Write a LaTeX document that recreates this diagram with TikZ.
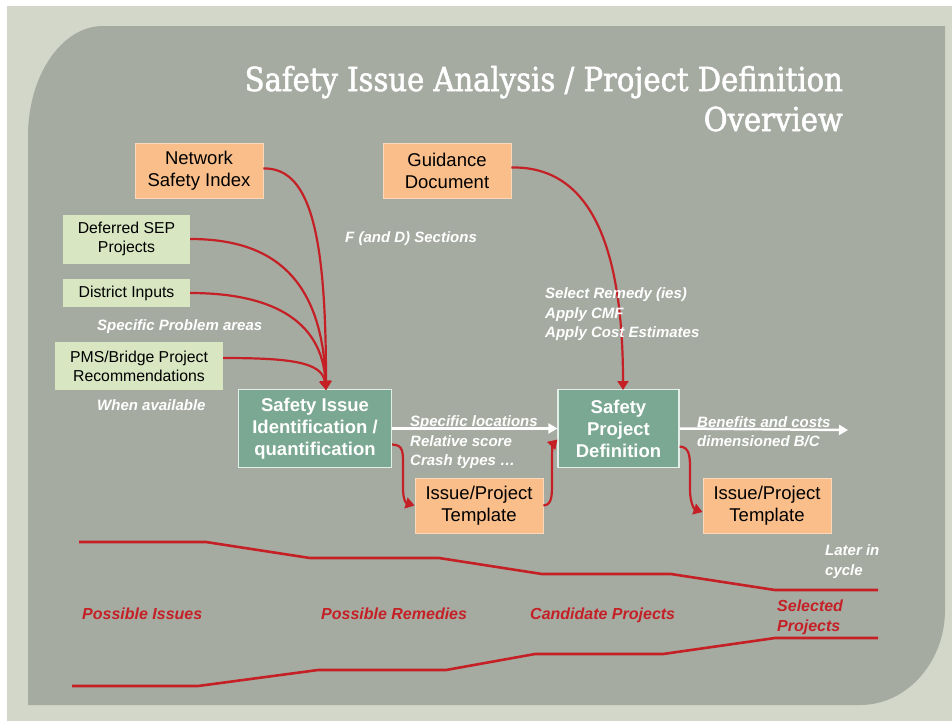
\documentclass[tikz,border=0pt]{standalone}
\usepackage{fontspec}
\setmainfont{Liberation Sans}
\newfontfamily\titlefont[FakeStretch=0.88,FakeBold=1.6]{DejaVu Serif}
\usetikzlibrary{arrows.meta}
\definecolor{pagebg}{RGB}{211,215,201}
\definecolor{panelbg}{RGB}{166,171,162}
\definecolor{peach}{RGB}{249,190,138}
\definecolor{palegreen}{RGB}{216,230,194}
\definecolor{boxteal}{RGB}{122,168,146}
\definecolor{flowred}{RGB}{196,32,38}
\newcommand{\boxfont}{\fontsize{18.5}{22}\selectfont}
\newcommand{\inputfont}{\fontsize{15.8}{19}\selectfont}
\newcommand{\notefont}{\fontsize{15}{19.5}\selectfont\bfseries\itshape}

\tikzset{
  srcbox/.style={fill=peach, draw=peach!60!white, line width=0.8pt, font=\boxfont,
    align=center, inner sep=0pt, minimum width=128pt, minimum height=55pt},
  inbox/.style={fill=palegreen, font=\inputfont, align=center, inner sep=0pt},
  stagebox/.style={fill=boxteal, draw=white!80!boxteal, line width=1.2pt, text=white,
    font=\boxfont\bfseries, align=center, inner sep=0pt, minimum height=78pt},
  notetext/.style={text=white, font=\notefont, align=left, inner sep=0pt, anchor=base west},
  phaselabel/.style={text=flowred, font=\fontsize{16}{20}\selectfont\bfseries\itshape,
    align=left, inner sep=0pt, anchor=base west},
  titletext/.style={text=white, font=\titlefont\fontsize{33}{40}\selectfont, align=right, inner sep=0pt},
  feed/.style={draw=flowred, line width=2.2pt, -{Triangle[width=11pt,length=9pt]}},
  flow/.style={draw=white, line width=2.5pt, -{Triangle[width=10pt,length=9pt]}},
  funnel/.style={draw=flowred, line width=2.6pt, line join=round}
}

\begin{document}
\begin{tikzpicture}[x=1pt,y=-1pt]
  \useasboundingbox (0,0) rectangle (952,721);
  % backdrop
  \fill[white] (0,0) rectangle (952,721);
  \fill[pagebg] (7,6) rectangle (952,721);
  \fill[panelbg] (28,705) -- (28,136) .. controls (28,75) and (62,26) .. (103,26)
    -- (945,26) -- (945,610) .. controls (945,662) and (907,705) .. (860,705) -- cycle;

  % (base = last line)
  \node[titletext, anchor=base east] (title) at (843,131)
    {Safety Issue Analysis / Project Definition\\Overview};

  % boxes
  \node[srcbox] (nsi) at (199,170.5) {Network\\Safety Index};
  \node[srcbox] (guide) at (447,170.5) {Guidance\\Document};
  \node[inbox, minimum width=127pt, minimum height=49pt] (sep) at (126.5,239) {Deferred SEP\\Projects};
  \node[inbox, minimum width=127pt, minimum height=28pt] (district) at (126.5,293) {District Inputs};
  \node[inbox, minimum width=168pt, minimum height=48pt] (pms) at (139,366) {PMS/Bridge Project\\Recommendations};
  \node[stagebox, minimum width=153pt] (issue) at (315,428.5) {Safety Issue\\Identification /\\quantification};
  \node[stagebox, minimum width=121pt] (project) at (618.5,428.5) {Safety\\Project\\Definition};
  \node[srcbox] (tplA) at (479,505.5) {Issue/Project\\Template};
  \node[srcbox] (tplB) at (767,505.5) {Issue/Project\\Template};

  \coordinate (issuein) at (326,390);
  \coordinate (projectin) at (623,390);
  \coordinate (result) at (848,430);

  % red connectors
  \draw[feed] ([yshift=2pt]nsi.east) .. controls (312,167) and (326,240) .. (issuein);
  \draw[feed] (sep.east) .. controls (262,239) and (322,268) .. (issuein);
  \draw[feed] (district.east) .. controls (268,293) and (322,318) .. (issuein);
  \draw[feed] ([yshift=8pt]pms.east) .. controls (290,358) and (322,362) .. (issuein);
  \draw[feed] ([yshift=3pt]guide.east) .. controls (585,166) and (623,235) .. (projectin);
  \draw[feed] ([yshift=-16pt]issue.east) .. controls (404,445) and (403,452) .. (403,470)
    -- (403,488) .. controls (403,500) and (406,503) .. (tplA.west);
  \draw[feed] (tplA.east) .. controls (551,505) and (552,498) .. (552,485)
    -- (552,458) .. controls (552,449) and (553,444) .. ([yshift=-11pt]project.west);
  \draw[feed] ([yshift=-18pt]project.east) .. controls (689,447) and (690,455) .. (690,468)
    -- (690,490) .. controls (690,502) and (694,509) .. ([yshift=-6.5pt]tplB.west);

  % white flow
  \draw[flow] (issue.east) -- (project.west);
  \draw[flow] (project.east) -- (result);

  % funnel
  \draw[funnel] (79,542) -- (206,542) -- (310,558) -- (439,558) -- (542,574) -- (671,574)
    -- (775,590) -- (878,590);
  \draw[funnel] (72,686) -- (198,686) -- (318,670) -- (446,670) -- (535,654) -- (663,654)
    -- (775,638) -- (878,638);

  % notes
  \node[notetext] (sections) at (345,242.5) {F (and D) Sections};
  \node[notetext] (remedy) at (545,337.5) {Select Remedy (ies)\\Apply CMF\\Apply Cost Estimates};
  \node[notetext] (areas) at (97,330.5) {Specific Problem areas};
  \node[notetext] (avail) at (97,410.5) {When available};
  \node[notetext] (locs) at (410,465.5) {Specific locations\\Relative score\\Crash types …};
  \node[notetext] (bc) at (697,446.5) {Benefits and costs\\dimensioned B/C};
  \node[notetext] (later) at (825,575) {Later in\\cycle};

  \node[phaselabel] (issues) at (82,619) {Possible Issues};
  \node[phaselabel] (remedies) at (321,619) {Possible Remedies};
  \node[phaselabel] (cands) at (530,619) {Candidate Projects};
  \node[phaselabel] (chosen) at (777,631) {Selected\\Projects};
\end{tikzpicture}
\end{document}
